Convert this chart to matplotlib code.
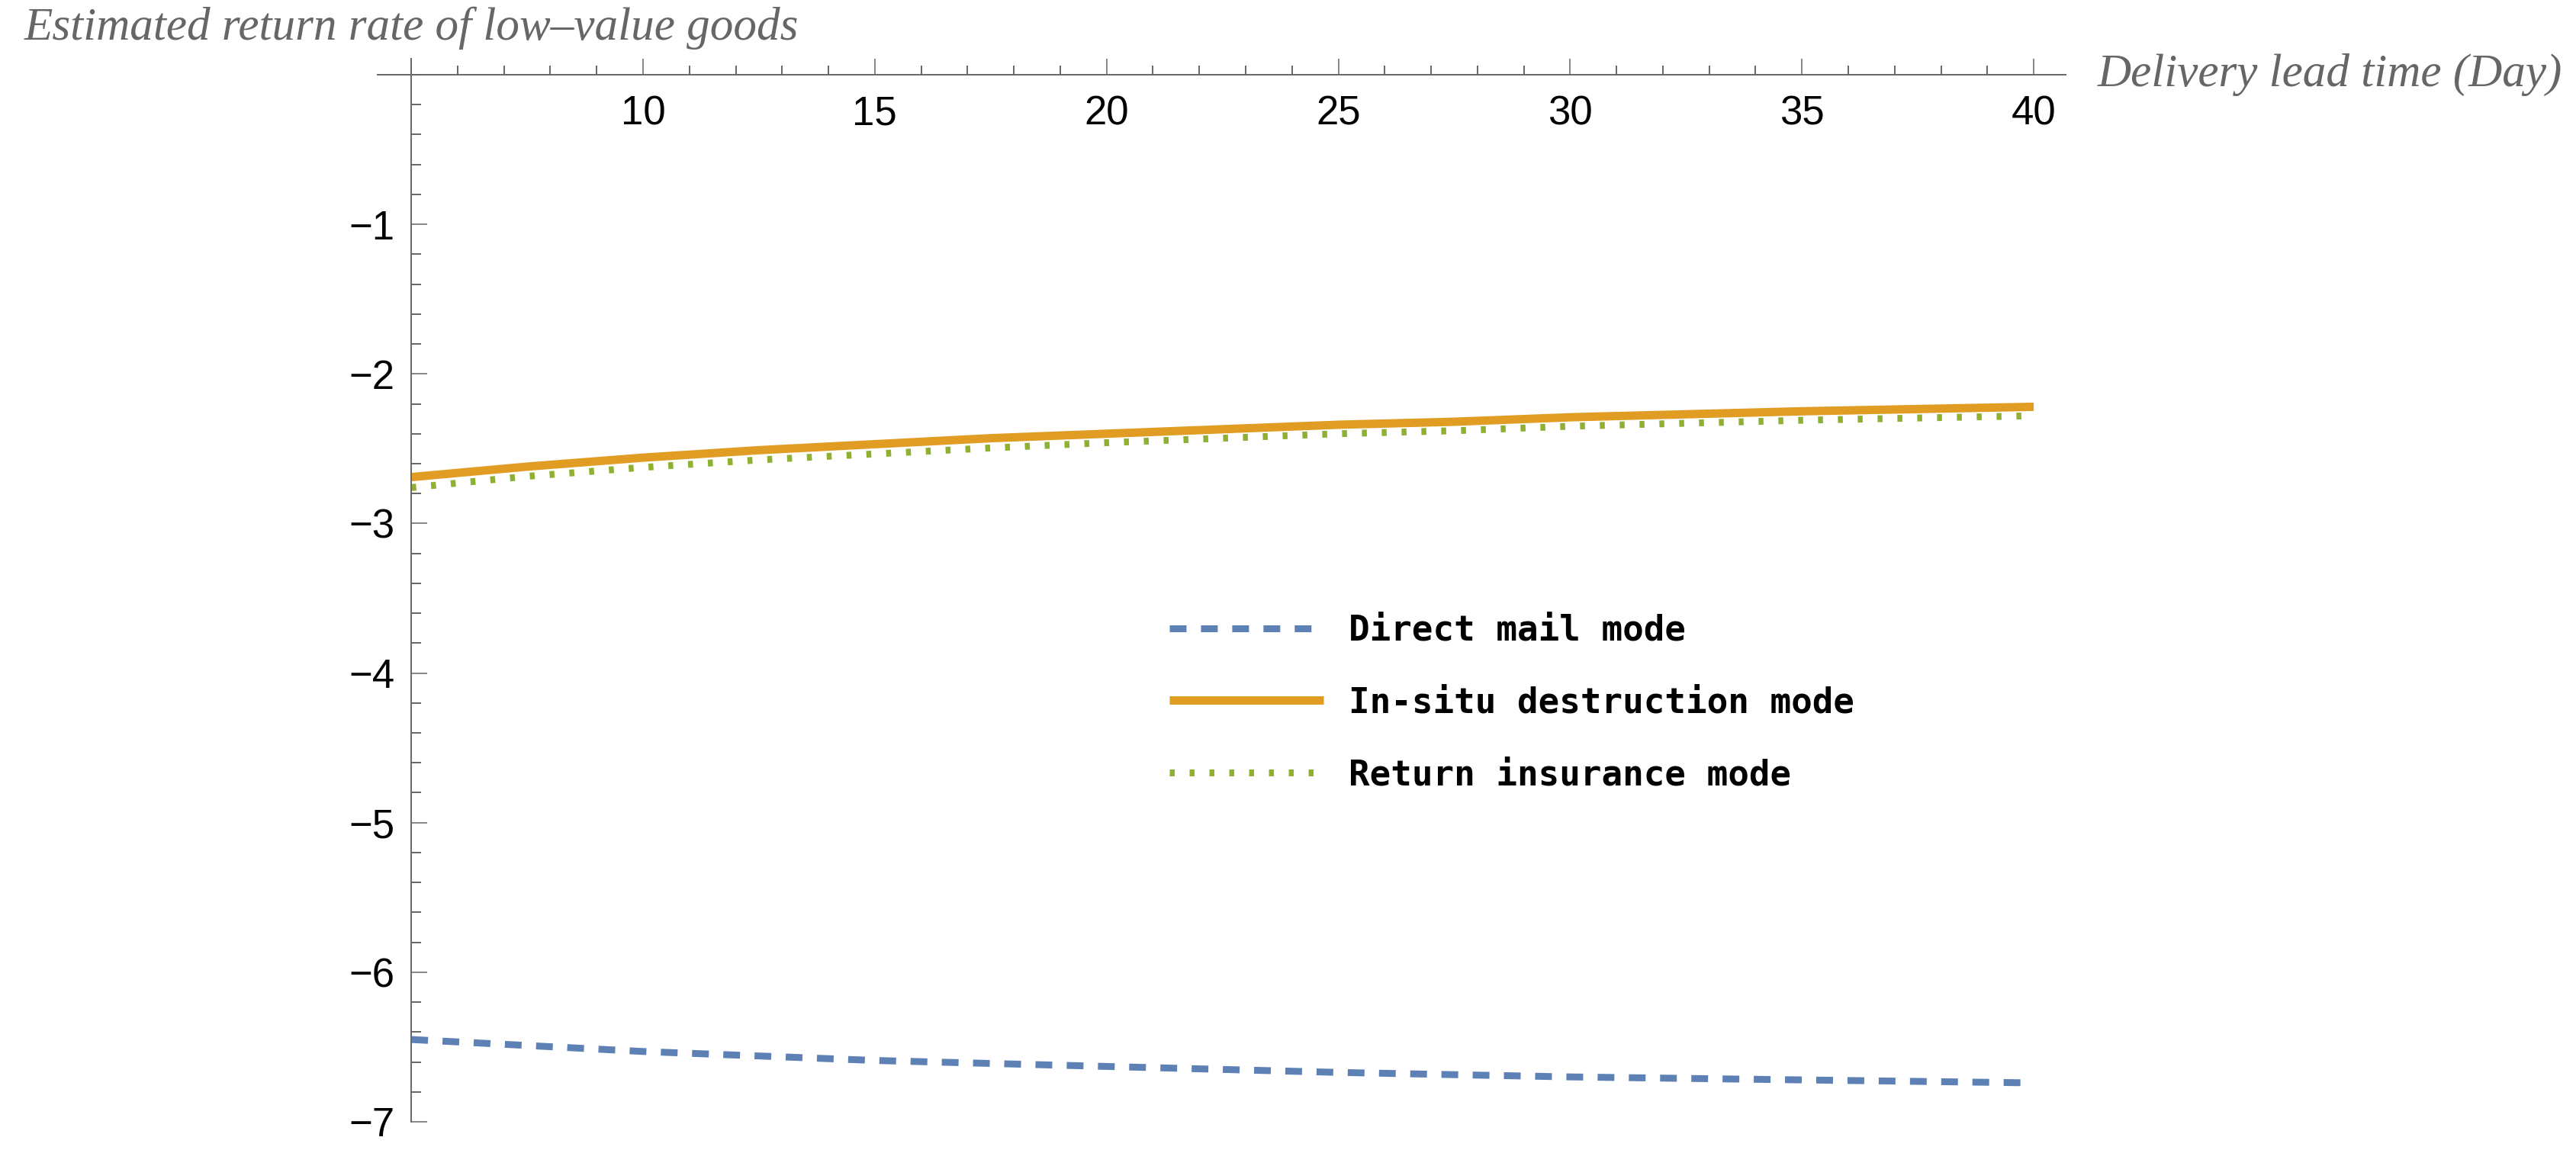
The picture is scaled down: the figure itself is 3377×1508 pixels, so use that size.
import matplotlib
matplotlib.use("Agg")
import matplotlib.pyplot as plt
from matplotlib.ticker import FixedLocator, MultipleLocator

# delivery lead time (days) and estimated return rate for each mode
lead_time = [5, 7.5, 10, 12.5, 15, 17.5, 20, 22.5, 25, 27.5, 30, 32.5, 35, 37.5, 40]
direct_mail = [-6.45, -6.49, -6.53, -6.56, -6.59, -6.61, -6.63, -6.65,
               -6.67, -6.685, -6.70, -6.71, -6.72, -6.73, -6.74]
in_situ = [-2.69, -2.62, -2.56, -2.51, -2.47, -2.43, -2.40, -2.37,
           -2.34, -2.32, -2.29, -2.27, -2.25, -2.235, -2.22]
return_ins = [-2.76, -2.685, -2.625, -2.575, -2.535, -2.495, -2.46, -2.43,
              -2.40, -2.38, -2.35, -2.33, -2.31, -2.295, -2.28]

x_ticks = [10, 15, 20, 25, 30, 35, 40]
y_ticks = [-7, -6, -5, -4, -3, -2, -1]

W, H, DPI = 3377, 1508, 200
fig = plt.figure(figsize=(W / DPI, H / DPI), dpi=DPI)

# axes box in pixels: left 495, right 2708, top 77, bottom 1471
ax = fig.add_axes([495 / W, (H - 1471) / H, (2708 - 495) / W, (1471 - 77) / H])

ax.plot(lead_time, direct_mail, color="#5E81B5", lw=3.24, dashes=(2.44, 2.11),
        label="Direct mail mode")
ax.plot(lead_time, in_situ, color="#E19C24", lw=3.96, solid_capstyle="butt",
        label="In-situ destruction mode")
ax.plot(lead_time, return_ins, color="#8FB131", lw=3.24, dashes=(0.72, 2.17),
        label="Return insurance mode")

ax.set_xlim(4.273, 40.69)
ax.set_ylim(-7, 0.107)

axis_gray = "#666666"
for side in ["top", "right"]:
    ax.spines[side].set_visible(False)
ax.spines["left"].set_position(("data", 5))
ax.spines["bottom"].set_position(("data", 0))
for side in ["left", "bottom"]:
    ax.spines[side].set_color(axis_gray)
    ax.spines[side].set_linewidth(0.7)

ax.xaxis.set_major_locator(FixedLocator(x_ticks))
ax.xaxis.set_minor_locator(MultipleLocator(1))
ax.yaxis.set_major_locator(FixedLocator(y_ticks))
ax.yaxis.set_minor_locator(MultipleLocator(0.2))

ax.tick_params(axis="both", which="both", direction="in", color=axis_gray,
               labelcolor="black", labelsize=19, labelfontfamily="Liberation Sans")
ax.tick_params(axis="both", which="major", length=7.6, width=0.55)
ax.tick_params(axis="both", which="minor", length=4.5, width=0.7)
ax.tick_params(axis="x", which="major", pad=9.4)
ax.tick_params(axis="y", which="major", pad=7.9)

title_font = dict(family="Liberation Serif", style="italic", size=22, color="#666666")
fig.text(539 / W, 1 - 52 / H, "Estimated return rate of low\u2013value goods",
         ha="center", va="baseline", **title_font)
fig.text(2750 / W, 1 - 113 / H, "Delivery lead time (Day)",
         ha="left", va="baseline", **title_font)

ax.legend(loc="upper left", bbox_to_anchor=(1533 / W, 1 - 805 / H),
          bbox_transform=fig.transFigure, frameon=False, borderpad=0,
          borderaxespad=0, handlelength=4.4, handletextpad=0.72,
          labelspacing=1.08,
          prop=dict(family="DejaVu Sans Mono", weight="bold", size=16.5))

fig.savefig("out.png", dpi=DPI)
